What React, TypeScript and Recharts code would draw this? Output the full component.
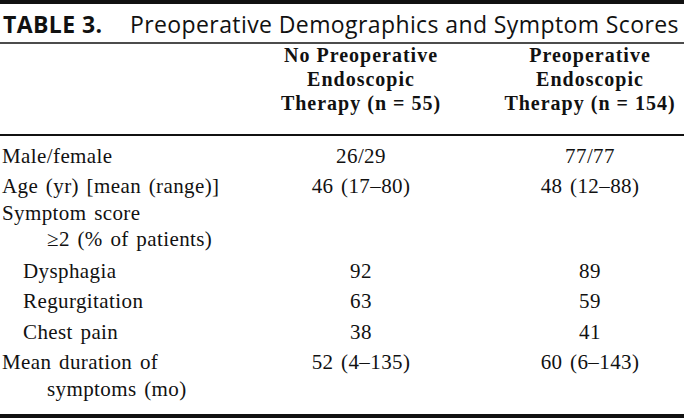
import { ScatterChart, Scatter, XAxis, YAxis, ReferenceLine } from 'recharts';

const W = 684;
const H = 418;

// table content
const titleLabel = 'TABLE 3.';
const titleText = 'Preoperative Demographics and Symptom Scores';
const groupHeaders = [
  ['No Preoperative', 'Endoscopic', 'Therapy (n = 55)'],
  ['Preoperative', 'Endoscopic', 'Therapy (n = 154)'],
];
const rowLabels = [
  'Male/female',
  'Age (yr) [mean (range)]',
  'Symptom score',
  '\u22652 (% of patients)',
  'Dysphagia',
  'Regurgitation',
  'Chest pain',
  'Mean duration of',
  'symptoms (mo)',
];
// 0 = row heading, 1 = sub item, 2 = continued line
const rowLevels = [0, 0, 0, 2, 1, 1, 1, 0, 2];
const noTherapyValues = ['26/29', '46 (17\u201380)', '', '', '92', '63', '38', '52 (4\u2013135)', ''];
const therapyValues = ['77/77', '48 (12\u201388)', '', '', '89', '59', '41', '60 (6\u2013143)', ''];

// layout
const colX = [2, 361, 590];
const indentX = [0, 21, 45];
const headerY = (i: number) => 62 + i * 24;
const bodyBaselines = [163, 193, 220, 246, 278, 308, 339, 369, 396];

const serif = '"Liberation Serif", "Times New Roman", serif';
const sans = '"Open Sans", "DejaVu Sans", sans-serif';

type Cell = { x: number; y: number; text: string; anchor: string; bold?: boolean };

const titleCells = [{ x: 3, y: 33, text: titleLabel }];

const headerCells: Cell[] = groupHeaders.flatMap((lines, c) =>
  lines.map((t, i) => ({ x: colX[c + 1], y: headerY(i), text: t, anchor: 'middle', bold: true }))
);

const labelCells: Cell[] = rowLabels.map((t, i) => ({
  x: colX[0] + indentX[rowLevels[i]],
  y: bodyBaselines[i],
  text: t,
  anchor: 'start',
}));

const valueCells: Cell[] = [noTherapyValues, therapyValues].flatMap((vals, c) =>
  vals
    .map((t, i) => ({ x: colX[c + 1], y: bodyBaselines[i], text: t, anchor: 'middle' }))
    .filter((d) => d.text !== '')
);

const TextShape = (props: any) => {
  const { cx, cy, payload } = props;
  return (
    <text
      x={cx}
      y={cy}
      textAnchor={payload.anchor}
      fontFamily={serif}
      fontSize={payload.bold ? 20 : 21}
      fontWeight={payload.bold ? 'bold' : 'normal'}
      letterSpacing={payload.bold ? 1 : 0.4}
      wordSpacing={payload.bold ? 0 : 2}
      fill="#111"
    >
      {payload.text}
    </text>
  );
};

const TitleShape = (props: any) => {
  const { cx, cy, payload } = props;
  return (
    <text x={cx} y={cy} fontFamily={sans} fontSize={23} letterSpacing={0.4} fill="#111">
      <tspan fontWeight="bold">{payload.text}</tspan>
      <tspan x={130}>{titleText}</tspan>
    </text>
  );
};

export default function App() {
  return (
    <div style={{ position: 'absolute', left: 0, top: 0, background: '#fff' }}>
      <ScatterChart width={W} height={H} margin={{ top: 0, right: 0, bottom: 0, left: 0 }}>
        <XAxis type="number" dataKey="x" domain={[0, W]} hide />
        <YAxis type="number" dataKey="y" domain={[0, H]} reversed hide />
        <ReferenceLine y={2} stroke="#111" strokeWidth={4} />
        <ReferenceLine y={43} stroke="#111" strokeWidth={1.5} />
        <ReferenceLine y={135} stroke="#111" strokeWidth={2} />
        <ReferenceLine y={416} stroke="#111" strokeWidth={4} />
        <Scatter data={titleCells} shape={TitleShape} isAnimationActive={false} />
        <Scatter data={headerCells} shape={TextShape} isAnimationActive={false} />
        <Scatter data={labelCells} shape={TextShape} isAnimationActive={false} />
        <Scatter data={valueCells} shape={TextShape} isAnimationActive={false} />
      </ScatterChart>
    </div>
  );
}
